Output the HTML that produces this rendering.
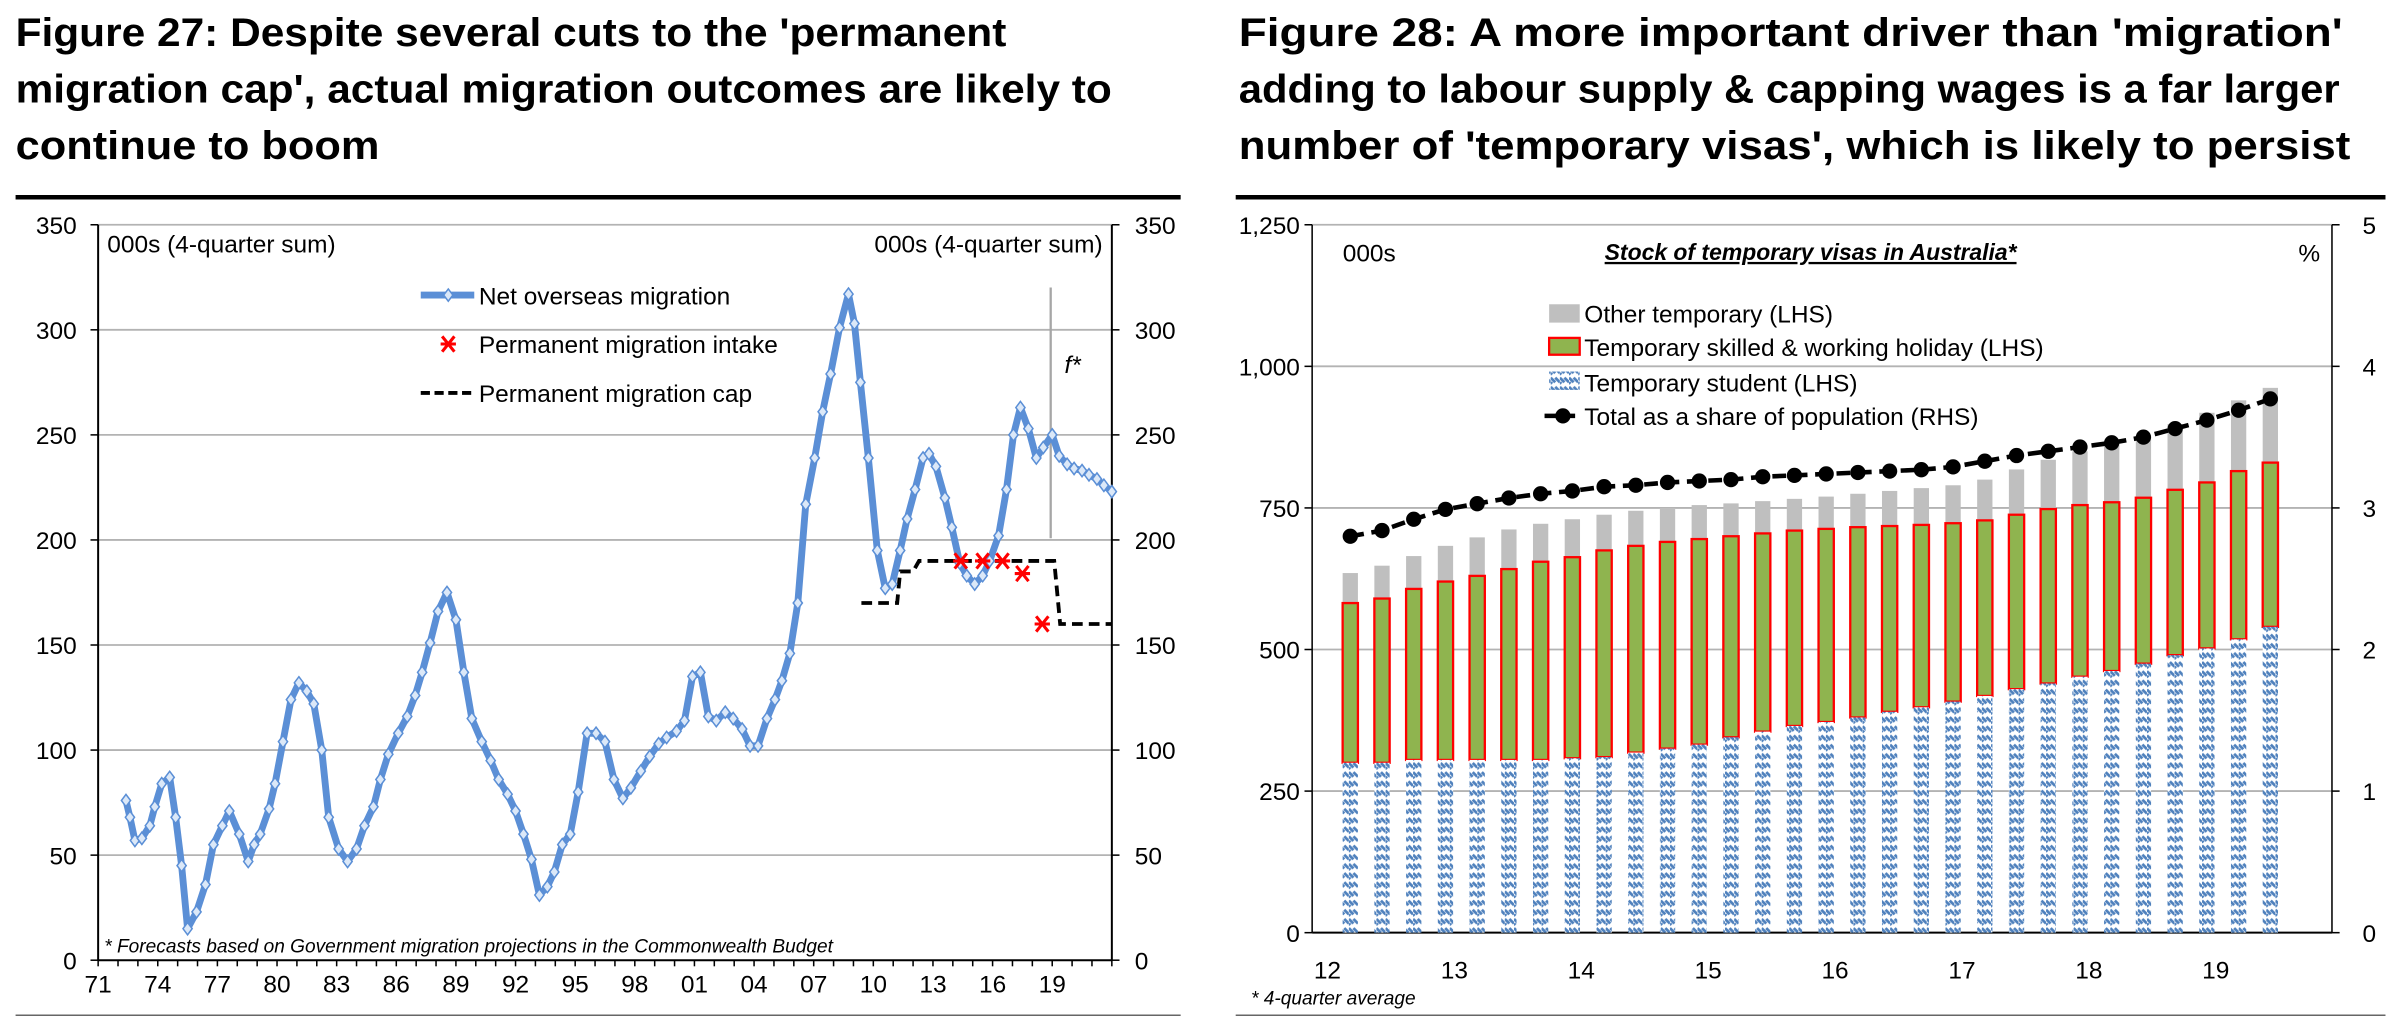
<!DOCTYPE html>
<html><head><meta charset="utf-8"><style>
html,body{margin:0;padding:0;background:#fff;}
svg{display:block;}
text{font-family:"Liberation Sans Narrow","Liberation Sans",sans-serif;}
.t{font-family:"Liberation Sans",sans-serif;font-weight:bold;font-size:26px;}
</style></head><body>
<svg id="s" width="2398" height="1029" viewBox="0 0 1568 673" xmlns="http://www.w3.org/2000/svg">
<defs>
<pattern id="stud" width="6" height="6" patternUnits="userSpaceOnUse">
<rect width="6" height="6" fill="#fff"/>
<path d="M0 1 L3 4 M3 1 L6 4 M0 4 L1 5" stroke="#4f81bd" stroke-width="1.8"/>
</pattern>
</defs>
<g>
<text class="t" x="10" y="30" textLength="648" lengthAdjust="spacingAndGlyphs">Figure 27: Despite several cuts to the 'permanent</text>
<text class="t" x="10" y="67" textLength="717" lengthAdjust="spacingAndGlyphs">migration cap', actual migration outcomes are likely to</text>
<text class="t" x="10" y="104" textLength="238" lengthAdjust="spacingAndGlyphs">continue to boom</text>
</g>
<g>
<text class="t" x="810" y="30" textLength="722" lengthAdjust="spacingAndGlyphs">Figure 28: A more important driver than 'migration'</text>
<text class="t" x="810" y="67" textLength="720" lengthAdjust="spacingAndGlyphs">adding to labour supply &amp; capping wages is a far larger</text>
<text class="t" x="810" y="104" textLength="727" lengthAdjust="spacingAndGlyphs">number of 'temporary visas', which is likely to persist</text>
</g>
<line x1="10" y1="129" x2="772" y2="129" stroke="#000" stroke-width="3"/>
<line x1="808" y1="129" x2="1560" y2="129" stroke="#000" stroke-width="3"/>
<line x1="10" y1="664" x2="772" y2="664" stroke="#666" stroke-width="1"/>
<line x1="808" y1="664" x2="1560" y2="664" stroke="#666" stroke-width="1"/>
<g id="c1"></g>
<g id="c2"></g>
</svg>
<script>
// ---------- Chart 1 data ----------
const nomYears = [1972.4,1972.6,1972.85,1973.2,1973.6,1973.85,1974.2,1974.6,1974.9,1975.2,1975.5,1975.95,1976.4,1976.8,1977.25,1977.6,1978.1,1978.55,1978.85,1979.15,1979.6,1979.9,1980.3,1980.7,1981.1,1981.5,1981.85,1982.25,1982.6,1983.1,1983.55,1984.0,1984.4,1984.85,1985.2,1985.6,1986.1,1986.55,1986.95,1987.3,1987.7,1988.1,1988.55,1989.0,1989.4,1989.8,1990.3,1990.75,1991.15,1991.6,1992.0,1992.4,1992.8,1993.2,1993.6,1993.95,1994.35,1994.75,1995.15,1995.6,1996.05,1996.5,1996.95,1997.4,1997.8,1998.3,1998.75,1999.2,1999.6,2000.1,2000.5,2000.9,2001.3,2001.7,2002.1,2002.55,2002.95,2003.4,2003.8,2004.2,2004.65,2005.05,2005.4,2005.8,2006.2,2006.6,2007.05,2007.45,2007.85,2008.3,2008.75,2009.05,2009.35,2009.75,2010.2,2010.6,2010.95,2011.35,2011.7,2012.1,2012.5,2012.8,2013.15,2013.6,2013.95,2014.35,2014.7,2015.1,2015.5,2015.85,2016.3,2016.7,2017.05,2017.4,2017.8,2018.2,2018.55,2019.0,2019.35,2019.75,2020.1,2020.5,2020.85,2021.25,2021.6,2022.0];
const nomValues = [76,68,57,58,64,73,84,87,68,45,15,23,36,55,64,71,60,47,55,60,72,84,104,124,132,128,122,100,68,53,47,53,64,73,86,98,108,116,126,137,151,166,175,162,137,115,104,95,86,79,71,60,48,31,35,42,55,60,80,108,108,104,86,77,82,90,97,103,106,109,114,135,137,116,114,118,115,110,102,102,115,124,133,146,170,217,239,261,279,301,317,303,275,239,195,177,179,195,210,224,239,241,235,220,206,189,183,179,183,190,202,224,250,263,253,239,244,250,240,236,234,233,231,229,226,223];
const capYears = [2009.4,2011.2,2011.35,2012.0,2012.3,2019.1,2019.4,2022.0];
const capValues = [170,170,185,185,190,190,160,160];
const intakeYears = [2014.4,2015.5,2016.5,2017.5,2018.5];
const intakeValues = [190,190,190,184,160];
const c1YTicks = [0,50,100,150,200,250,300,350];
const c1XLabels = ['71','74','77','80','83','86','89','92','95','98','01','04','07','10','13','16','19'];
const c1XLabelYears = [1971,1974,1977,1980,1983,1986,1989,1992,1995,1998,2001,2004,2007,2010,2013,2016,2019];

// ---------- Chart 2 data ----------
const visaQuarters = [2012.18,2012.43,2012.68,2012.93,2013.18,2013.43,2013.68,2013.93,2014.18,2014.43,2014.68,2014.93,2015.18,2015.43,2015.68,2015.93,2016.18,2016.43,2016.68,2016.93,2017.18,2017.43,2017.68,2017.93,2018.18,2018.43,2018.68,2018.93,2019.18,2019.43];
const studentValues = [300,300,305,305,305,305,305,308,310,318,325,332,345,355,365,372,380,390,398,408,418,430,440,452,462,475,490,502,518,540];
const skilledTopValues = [582,590,607,620,630,642,655,663,675,683,690,695,700,705,710,713,716,718,720,723,728,738,748,755,760,768,782,795,815,830];
const totalValues = [635,648,665,683,698,712,722,730,738,745,750,755,758,762,766,770,775,780,785,790,800,818,835,850,862,878,898,918,940,962];
const shareValues = [2.80,2.84,2.92,2.99,3.03,3.07,3.10,3.12,3.15,3.16,3.18,3.19,3.20,3.22,3.23,3.24,3.25,3.26,3.27,3.29,3.33,3.37,3.40,3.43,3.46,3.50,3.56,3.62,3.69,3.77];
const c2YTicks = [0,250,500,750,1000,1250];
const c2RTicks = [0,1,2,3,4,5];
const c2XLabels = ['12','13','14','15','16','17','18','19'];
const c2XLabelYears = [2012,2013,2014,2015,2016,2017,2018,2019];

const NS='http://www.w3.org/2000/svg';
function mk(parent,tag,attrs,txt){const e=document.createElementNS(NS,tag);for(const k in attrs)e.setAttribute(k,attrs[k]);if(txt!==undefined)e.textContent=txt;parent.appendChild(e);return e;}
function fmt(v){return v>=1000?Math.floor(v/1000)+','+String(v%1000).padStart(3,'0'):String(v);}

// ===== Chart 1 =====
(function(){
const g=document.getElementById('c1');
const L=64,R=727,T=147,B=628;
const x=yr=>L+(yr-1971)*(R-L)/51;
const y=v=>B-v*(B-T)/350;
c1YTicks.forEach(v=>{
  if(v>0){const gl=mk(g,'line',{x1:L,x2:R,y1:y(v),y2:y(v),stroke:'#b3b3b3','stroke-width':1.2});
  
  }
  const t1=mk(g,'text',{x:50,y:y(v)+6,'text-anchor':'end','font-size':16},String(v));
  
  
  const t2=mk(g,'text',{x:742,y:y(v)+6,'font-size':16},String(v));
  
  
  mk(g,'line',{x1:L-5,x2:L,y1:y(v),y2:y(v),stroke:'#000'});
  mk(g,'line',{x1:R,x2:R+5,y1:y(v),y2:y(v),stroke:'#000'});
});
const la=mk(g,'line',{x1:L,x2:L,y1:T,y2:B,stroke:'#000','stroke-width':1.3});


const ra=mk(g,'line',{x1:R,x2:R,y1:T,y2:B,stroke:'#000','stroke-width':1.3});


const xa=mk(g,'line',{x1:L,x2:R,y1:B,y2:B,stroke:'#000','stroke-width':1.3});


for(let yr=1971;yr<=2022;yr++){mk(g,'line',{x1:x(yr),x2:x(yr),y1:B,y2:B+4,stroke:'#000'});}
c1XLabels.forEach((lab,i)=>{
  const t=mk(g,'text',{x:x(c1XLabelYears[i]),y:B+21,'text-anchor':'middle','font-size':16},lab);
  
  
});
const u1=mk(g,'text',{x:70,y:165,'font-size':16},'000s (4-quarter sum)');


const u2=mk(g,'text',{x:721,y:165,'font-size':16,'text-anchor':'end'},'000s (4-quarter sum)');


const fl=mk(g,'line',{x1:687,x2:687,y1:188,y2:352,stroke:'#a6a6a6','stroke-width':1.5});


const ft=mk(g,'text',{x:696,y:244,'font-size':16,'font-style':'italic'},'f*');


const cp=mk(g,'polyline',{points:capYears.map((yr,i)=>x(yr)+','+y(capValues[i])).join(' '),fill:'none',stroke:'#000','stroke-width':2.5,'stroke-dasharray':'7,4'});


const nl=mk(g,'polyline',{points:nomYears.map((yr,i)=>x(yr)+','+y(nomValues[i])).join(' '),fill:'none',stroke:'#5b8fd6','stroke-width':4.5,'stroke-linejoin':'round'});


nomYears.forEach((yr,i)=>{
  const cx=x(yr),cy=y(nomValues[i]);
  const m=mk(g,'path',{d:`M${cx} ${cy-4} L${cx+3} ${cy} L${cx} ${cy+4} L${cx-3} ${cy} Z`,fill:'#dbe8f8',stroke:'#5b8fd6','stroke-width':1});
  
  
});
intakeYears.forEach((yr,i)=>{
  const cx=x(yr),cy=y(intakeValues[i]);
  const s=mk(g,'path',{d:`M${cx-4} ${cy-5} L${cx+4} ${cy+5} M${cx+4} ${cy-5} L${cx-4} ${cy+5} M${cx-5} ${cy} L${cx+5} ${cy}`,stroke:'#ff0000','stroke-width':2});
  
  
});
const lg=mk(g,'g',{});


mk(lg,'line',{x1:275,x2:310,y1:193,y2:193,stroke:'#5b8fd6','stroke-width':4.5});
mk(lg,'path',{d:'M293 189 L296 193 L293 197 L290 193 Z',fill:'#dbe8f8',stroke:'#5b8fd6'});
mk(lg,'text',{x:313,y:199,'font-size':16},'Net overseas migration');
mk(lg,'path',{d:'M289 220 L297 230 M297 220 L289 230 M288 225 L298 225',stroke:'#ff0000','stroke-width':2});
mk(lg,'text',{x:313,y:231,'font-size':16},'Permanent migration intake');
mk(lg,'line',{x1:275,x2:310,y1:257,y2:257,stroke:'#000','stroke-width':2.5,'stroke-dasharray':'6,3'});
mk(lg,'text',{x:313,y:263,'font-size':16},'Permanent migration cap');
const fn=mk(g,'text',{x:68,y:623,'font-size':12.5,'font-style':'italic'},'* Forecasts based on Government migration projections in the Commonwealth Budget');


})();

// ===== Chart 2 =====
(function(){
const g=document.getElementById('c2');
const L=858,R=1525,T=147,B=610;
const x=yr=>868+(yr-2012)*83;
const y=v=>B-v*(B-T)/1250;
const yr2=v=>B-v*(B-T)/5;
c2YTicks.forEach(v=>{
  if(v>0){const gl=mk(g,'line',{x1:L,x2:R,y1:y(v),y2:y(v),stroke:'#b3b3b3','stroke-width':1.2});
  
  }
  mk(g,'line',{x1:L-5,x2:L,y1:y(v),y2:y(v),stroke:'#000'});
  const t=mk(g,'text',{x:850,y:y(v)+6,'text-anchor':'end','font-size':16},fmt(v));
  
  
});
c2RTicks.forEach(v=>{
  mk(g,'line',{x1:R,x2:R+5,y1:yr2(v),y2:yr2(v),stroke:'#000'});
  const t=mk(g,'text',{x:1545,y:yr2(v)+6,'font-size':16},String(v));
  
  
});
const la=mk(g,'line',{x1:L,x2:L,y1:T,y2:B,stroke:'#000','stroke-width':1});


const ra=mk(g,'line',{x1:R,x2:R,y1:T,y2:B,stroke:'#000','stroke-width':1});


const xa=mk(g,'line',{x1:L,x2:R,y1:B,y2:B,stroke:'#000','stroke-width':1.3});


c2XLabels.forEach((lab,i)=>{
  const t=mk(g,'text',{x:x(c2XLabelYears[i]),y:B+30,'text-anchor':'middle','font-size':16},lab);
  
  
});
const bw=10;
visaQuarters.forEach((q,i)=>{
  const cx=x(q);
  const r1=mk(g,'rect',{x:cx-bw/2,y:y(totalValues[i]),width:bw,height:y(skilledTopValues[i])-y(totalValues[i]),fill:'#bfbfbf'});
  
  
  const r2=mk(g,'rect',{x:cx-bw/2,y:y(skilledTopValues[i]),width:bw,height:y(studentValues[i])-y(skilledTopValues[i]),fill:'#8fb44f',stroke:'#ff0000','stroke-width':1.5});
  
  
  const r3=mk(g,'rect',{x:cx-bw/2,y:y(studentValues[i]),width:bw,height:B-y(studentValues[i]),fill:'url(#stud)'});
  
  
});
const sl=mk(g,'polyline',{points:visaQuarters.map((q,i)=>x(q)+','+yr2(shareValues[i])).join(' '),fill:'none',stroke:'#000','stroke-width':3,'stroke-dasharray':'9,5'});


visaQuarters.forEach((q,i)=>{
  const c=mk(g,'circle',{cx:x(q),cy:yr2(shareValues[i]),r:5});
  
  
});
const u1=mk(g,'text',{x:878,y:171,'font-size':16},'000s');


const u2=mk(g,'text',{x:1503,y:171,'font-size':16},'%');


const ct=mk(g,'text',{x:1184,y:170,'font-size':15,'font-style':'italic','font-weight':'bold','text-anchor':'middle','text-decoration':'underline'},'Stock of temporary visas in Australia*');


const lg=mk(g,'g',{});


mk(lg,'rect',{x:1013,y:199,width:20,height:12,fill:'#bfbfbf'});
mk(lg,'text',{x:1036,y:211,'font-size':16},'Other temporary (LHS)');
mk(lg,'rect',{x:1013,y:221,width:20,height:11,fill:'#8fb44f',stroke:'#ff0000','stroke-width':1.5});
mk(lg,'text',{x:1036,y:233,'font-size':16},'Temporary skilled & working holiday (LHS)');
mk(lg,'rect',{x:1013,y:243,width:20,height:12,fill:'url(#stud)'});
mk(lg,'text',{x:1036,y:256,'font-size':16},'Temporary student (LHS)');
mk(lg,'line',{x1:1010,x2:1034,y1:272,y2:272,stroke:'#000','stroke-width':3,'stroke-dasharray':'8,4'});
mk(lg,'circle',{cx:1022,cy:272,r:5});
mk(lg,'text',{x:1036,y:278,'font-size':16},'Total as a share of population (RHS)');
const fn=mk(g,'text',{x:818,y:657,'font-size':12.5,'font-style':'italic'},'* 4-quarter average');


})();
</script>
</body></html>
